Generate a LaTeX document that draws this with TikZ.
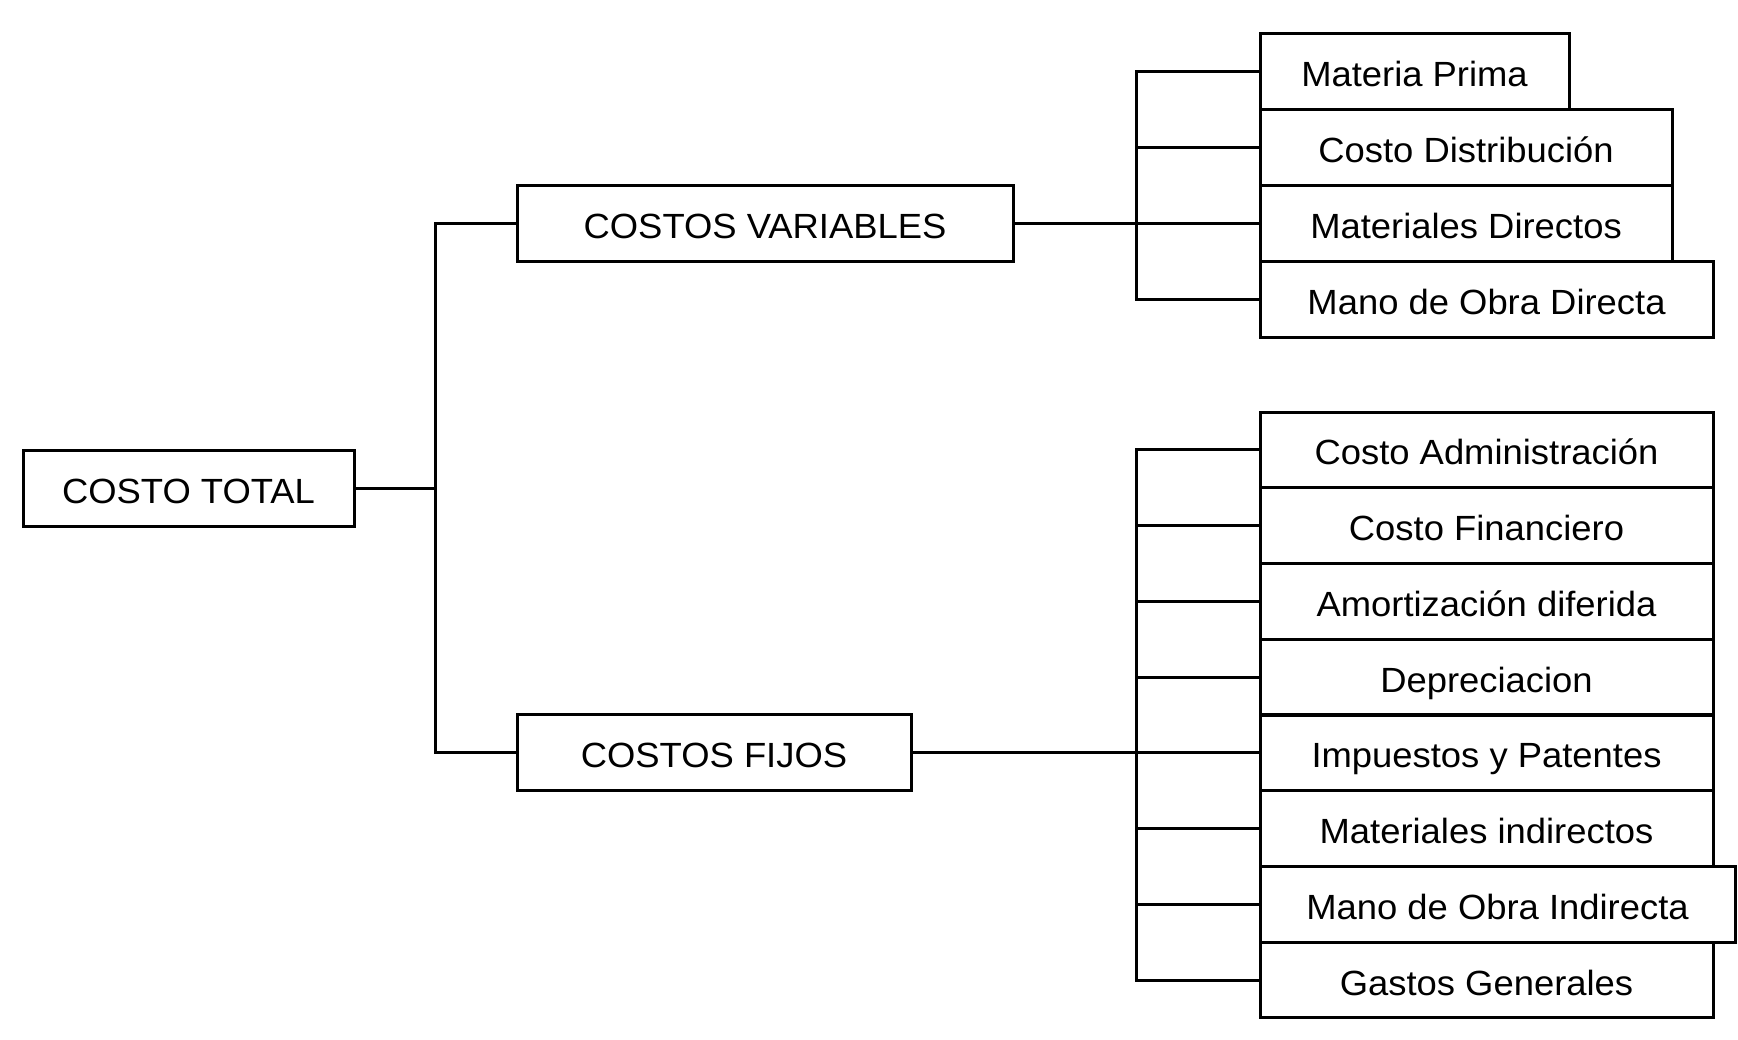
\documentclass[tikz,border=0pt]{standalone}
\usepackage{fontspec}
\setmainfont[FakeStretch=1.04]{Liberation Sans}
\begin{document}
\begin{tikzpicture}[x=0.5pt,y=-0.5pt,
  box/.style={draw, line width=1.5pt, inner sep=0pt, text height=16pt, text depth=1pt,
    font=\fontsize{17.5}{20}\selectfont},
  hbox/.style={box, minimum height=38pt},
  sbox/.style={box, minimum height=37.875pt},
  link/.style={line width=1.5pt}]
\useasboundingbox[fill=white] (0,0) rectangle (1738,1039);
% main boxes
\node[hbox, minimum width=165.5pt] (total) at (188.5,488.5) {COSTO TOTAL};
\node[hbox, minimum width=248pt] (var) at (765,223) {COSTOS VARIABLES};
\node[hbox, minimum width=197pt] (fij) at (714,752.9) {COSTOS FIJOS};
% variable items
\node[hbox, minimum width=154.5pt] (mp) at (1414.5,71) {Materia Prima};
\node[hbox, minimum width=206pt] (cd) at (1466,147) {Costo Distribución};
\node[hbox, minimum width=206pt] (md) at (1466,223) {Materiales Directos};
\node[hbox, minimum width=226.5pt] (mod) at (1486.5,299) {Mano de Obra Directa};
% fixed items
\node[sbox, minimum width=226.5pt] (ca) at (1486.5,449.9) {Costo Administración};
\node[sbox, minimum width=226.5pt] (cf) at (1486.5,525.6) {Costo Financiero};
\node[sbox, minimum width=226.5pt] (am) at (1486.5,601.4) {Amortización diferida};
\node[sbox, minimum width=226.5pt] (dep) at (1486.5,677.1) {Depreciacion};
\node[sbox, minimum width=226.5pt] (imp) at (1486.5,752.9) {Impuestos y Patentes};
\node[sbox, minimum width=226.5pt] (mi) at (1486.5,828.6) {Materiales indirectos};
\node[sbox, minimum width=237.5pt] (moi) at (1497.5,904.4) {Mano de Obra Indirecta};
\node[sbox, minimum width=226.5pt] (gg) at (1486.5,980.1) {Gastos Generales};
% junctions
\coordinate (j1) at (435.5,488.5);
\coordinate (j2) at (1136.5,223);
\coordinate (j3) at (1136.5,752.9);
% connectors
\draw[link] (total.east) -- (j1);
\draw[link] (var.west) -| (j1) |- (fij.west);
\draw[link] (var.east) -- (md.west);
\draw[link] (mp.west) -| (j2) |- (mod.west);
\draw[link] (cd.west) -- (cd.west -| j2);
\draw[link] (fij.east) -- (imp.west);
\draw[link] (ca.west) -| (j3) |- (gg.west);
\draw[link] (cf.west) -- (cf.west -| j3);
\draw[link] (am.west) -- (am.west -| j3);
\draw[link] (dep.west) -- (dep.west -| j3);
\draw[link] (mi.west) -- (mi.west -| j3);
\draw[link] (moi.west) -- (moi.west -| j3);
\end{tikzpicture}
\end{document}
